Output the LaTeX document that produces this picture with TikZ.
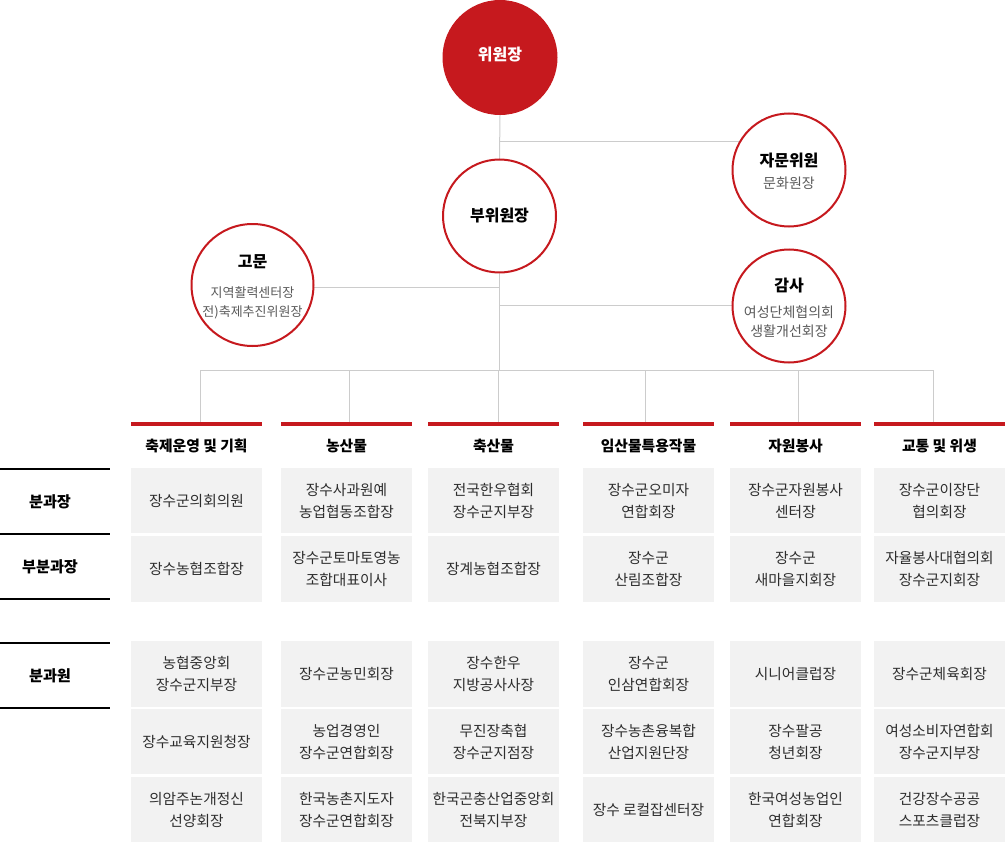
\documentclass[tikz,border=0pt]{standalone}
\usepackage{fontspec}
\setmainfont{Noto Sans CJK KR}
\usetikzlibrary{backgrounds}
\definecolor{brandred}{RGB}{198,25,30}
\definecolor{cellgray}{RGB}{242,242,242}
\definecolor{linegray}{RGB}{204,204,204}
\definecolor{celltext}{RGB}{45,45,45}
\definecolor{subtext}{RGB}{90,90,90}
\begin{document}
\begin{tikzpicture}[x=1pt,y=-1pt,
  conn/.style={draw=linegray, line width=1pt},
  ring/.style={circle, draw=brandred, line width=2pt, fill=white, minimum size=#1, inner sep=0pt},
  ring/.default=113pt,
  ttl/.style={font=\fontsize{16}{19}\selectfont\bfseries, text=black, inner sep=0pt},
  sub/.style={font=\fontsize{14}{19}\selectfont, text=subtext, align=center, inner sep=0pt},
  cell/.style={fill=cellgray, minimum width=131pt, minimum height=#1, inner sep=0pt, text=celltext, font=\fontsize{14.7}{22}\selectfont, align=center},
  head/.style={font=\fontsize{14.8}{18}\selectfont\bfseries, text=black, inner sep=0pt},
  redbar/.style={fill=brandred, minimum width=131pt, minimum height=4pt, inner sep=0pt},
  rowlbl/.style={font=\fontsize{15.2}{18}\selectfont\bfseries, text=black, inner sep=0pt},
  rule/.style={draw=black, line width=2pt}
]
\useasboundingbox (0,0) rectangle (1005,843);

% circles
\node[circle, fill=brandred, minimum size=115pt, inner sep=0pt] (chair) at (500,57.5) {};
\node[ttl, text=white] (chairT) at (500,55) {위원장};
\node[ring] (vice) at (499.5,216) {};
\node[ttl] (viceT) at (499.5,216) {부위원장};
\node[ring] (advisor) at (789,170) {};
\node[ttl] (advisorT) at (789,161) {자문위원};
\node[sub] (advisorS) at (789,183) {문화원장};
\node[ring=122pt] (gomun) at (252.5,285) {};
\node[ttl] (gomunT) at (252.5,262) {고문};
\node[sub, font=\fontsize{13}{19}\selectfont] (gomunS) at (252.5,302.5) {지역활력센터장\\전)축제추진위원장};
\node[ring] (audit) at (789,306) {};
\node[ttl] (auditT) at (789,286) {감사};
\node[sub] (auditS) at (789,322) {여성단체협의회\\생활개선회장};

% red bars and headers
\foreach \i/\x/\h in {1/196.5/축제운영 및 기획, 2/346.5/농산물, 3/493.5/축산물, 4/648.5/임산물특용작물, 5/795.5/자원봉사, 6/939.5/교통 및 위생}{
  \node[redbar] (bar\i) at (\x,424) {};
  \node[head] (head\i) at (\x,446) {\h};
}

% junction coordinates
\coordinate (jA) at (499.5,141);
\coordinate (jG) at (499.5,287);
\coordinate (jS) at (499.5,305);
\coordinate (bus) at (499.5,370);
\coordinate (d1) at (200,370);
\coordinate (d2) at (349,370);
\coordinate (d3) at (498,370);
\coordinate (d4) at (645,370);
\coordinate (d5) at (798,370);
\coordinate (d6) at (933,370);

\begin{scope}[on background layer]
  \draw[conn] (chair.south) -- (vice.north);
  \draw[conn] (jA) -- (jA -| advisor.center);
  \draw[conn] (vice.south) -- (bus);
  \draw[conn] (jG) -- (jG -| gomun.center);
  \draw[conn] (jS) -- (jS -| audit.center);
  \draw[conn] (d1) -- (d6);
  \foreach \i in {1,...,6}{
    \draw[conn] (d\i) -- (d\i |- bar\i.north);
  }
\end{scope}

% left labels
\draw[rule] (0,469) -- (110,469);
\draw[rule] (0,534) -- (110,534);
\draw[rule] (0,599) -- (110,599);
\draw[rule] (0,643) -- (110,643);
\draw[rule] (0,708) -- (110,708);
\node[rowlbl] (lbl1) at (50,501.5) {분과장};
\node[rowlbl] (lbl2) at (50,566.5) {부분과장};
\node[rowlbl] (lbl3) at (50,675.5) {분과원};

% cells col 1
\node[cell=65pt] (c11) at (196.5,500.5) {장수군의회의원};
\node[cell=66pt] (c12) at (196.5,569) {장수농협조합장};
\node[cell=66pt] (c13) at (196.5,674) {농협중앙회\\장수군지부장};
\node[cell=65pt] (c14) at (196.5,741.5) {장수교육지원청장};
\node[cell=65pt] (c15) at (196.5,809.5) {의암주논개정신\\선양회장};
% col 2
\node[cell=65pt] (c21) at (346.5,500.5) {장수사과원예\\농업협동조합장};
\node[cell=66pt] (c22) at (346.5,569) {장수군토마토영농\\조합대표이사};
\node[cell=66pt] (c23) at (346.5,674) {장수군농민회장};
\node[cell=65pt] (c24) at (346.5,741.5) {농업경영인\\장수군연합회장};
\node[cell=65pt] (c25) at (346.5,809.5) {한국농촌지도자\\장수군연합회장};
% col 3
\node[cell=65pt] (c31) at (493.5,500.5) {전국한우협회\\장수군지부장};
\node[cell=66pt] (c32) at (493.5,569) {장계농협조합장};
\node[cell=66pt] (c33) at (493.5,674) {장수한우\\지방공사사장};
\node[cell=65pt] (c34) at (493.5,741.5) {무진장축협\\장수군지점장};
\node[cell=65pt] (c35) at (493.5,809.5) {한국곤충산업중앙회\\전북지부장};
% col 4
\node[cell=65pt] (c41) at (648.5,500.5) {장수군오미자\\연합회장};
\node[cell=66pt] (c42) at (648.5,569) {장수군\\산림조합장};
\node[cell=66pt] (c43) at (648.5,674) {장수군\\인삼연합회장};
\node[cell=65pt] (c44) at (648.5,741.5) {장수농촌융복합\\산업지원단장};
\node[cell=65pt] (c45) at (648.5,809.5) {장수 로컬잡센터장};
% col 5
\node[cell=65pt] (c51) at (795.5,500.5) {장수군자원봉사\\센터장};
\node[cell=66pt] (c52) at (795.5,569) {장수군\\새마을지회장};
\node[cell=66pt] (c53) at (795.5,674) {시니어클럽장};
\node[cell=65pt] (c54) at (795.5,741.5) {장수팔공\\청년회장};
\node[cell=65pt] (c55) at (795.5,809.5) {한국여성농업인\\연합회장};
% col 6
\node[cell=65pt] (c61) at (939.5,500.5) {장수군이장단\\협의회장};
\node[cell=66pt] (c62) at (939.5,569) {자율봉사대협의회\\장수군지회장};
\node[cell=66pt] (c63) at (939.5,674) {장수군체육회장};
\node[cell=65pt] (c64) at (939.5,741.5) {여성소비자연합회\\장수군지부장};
\node[cell=65pt] (c65) at (939.5,809.5) {건강장수공공\\스포츠클럽장};
\end{tikzpicture}
\end{document}
